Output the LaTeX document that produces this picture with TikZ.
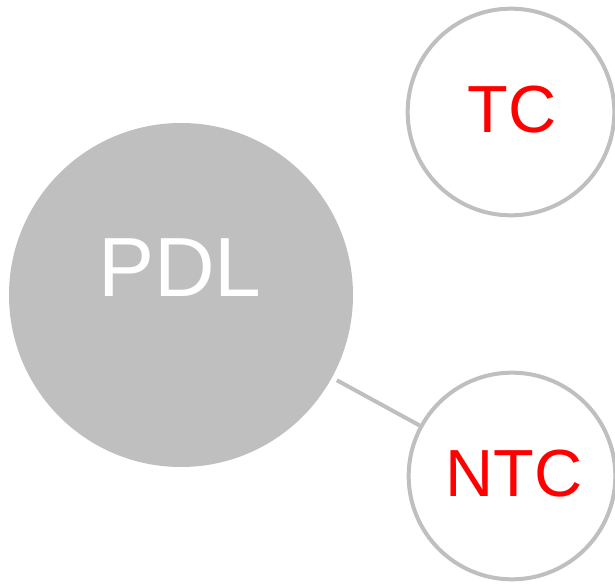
\documentclass[tikz,border=0pt]{standalone}
\usepackage{fontspec}
\setmainfont{Liberation Sans}
\definecolor{ringgray}{RGB}{191,191,191}
\definecolor{labelred}{RGB}{255,0,0}
\tikzset{
  bigball/.style={circle,fill=ringgray,inner sep=0pt,minimum size=258pt},
  ring/.style={circle,draw=ringgray,line width=3pt,fill=white,inner sep=0pt,minimum size=155pt},
  ringtext/.style={text=labelred,inner sep=0pt,font=\fontsize{50}{60}\selectfont},
  link/.style={draw=ringgray,line width=3pt}
}
\begin{document}
\begin{tikzpicture}[x=0.75pt,y=0.75pt,yscale=-1,xscale=1]
\useasboundingbox (0,0) rectangle (615,585);
\node [bigball] (pdl) at (181,295) {};
\node [text=white,inner sep=0pt,font=\fontsize{63}{76}\selectfont] (pdltext) at (180,268) {PDL};
\node [ring] (tc) at (511,112) {};
\node [ringtext] (tctext) at (512,110) {TC};
\node [ring] (ntc) at (512,476) {};
\node [ringtext] (ntctext) at (514,474) {NTC};
\draw [link,shorten <=4pt] (pdl) -- (ntc);
\end{tikzpicture}
\end{document}
